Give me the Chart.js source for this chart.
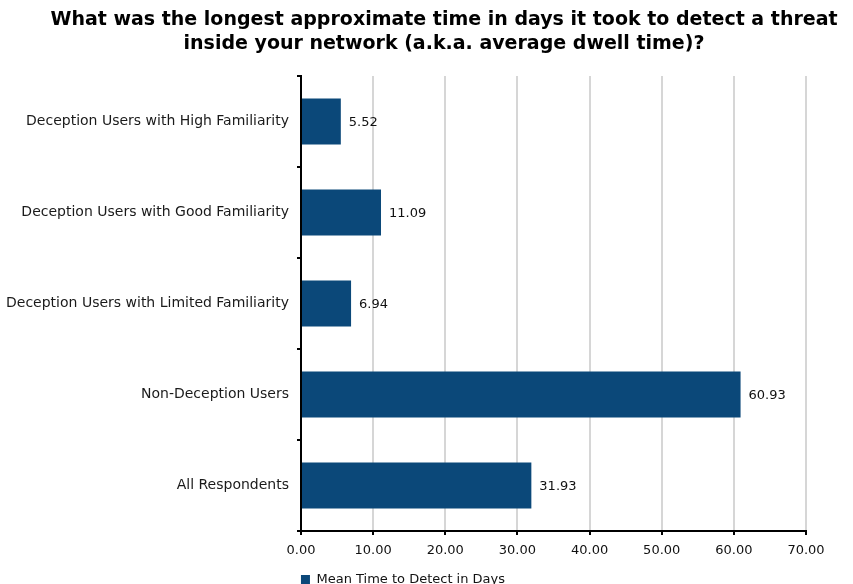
<!DOCTYPE html>
<html>
<head>
    <script src="https://cdn.jsdelivr.net/npm/chart.js"></script>
    <style>
        body { margin: 0; background: #fff; }
        #wrap { width: 853px; height: 584px; }
    </style>
</head>
<body>
    <div id="wrap"><canvas id="chart"></canvas></div>
    <script>
        const categories = [
            'Deception Users with High Familiarity',
            'Deception Users with Good Familiarity',
            'Deception Users with Limited Familiarity',
            'Non-Deception Users',
            'All Respondents'
        ];
        const meanDays = [5.52, 11.09, 6.94, 60.93, 31.93];
        const seriesName = 'Mean Time to Detect in Days';
        const titleLines = [
            'What was the longest approximate time in days it took to detect a threat',
            'inside your network (a.k.a. average dwell time)?'
        ];

        const barColor = '#0b4879';
        const font = 'DejaVu Sans';

        // title sits a bit right of the canvas centre in the original, so draw it by hand
        const titleText = {
            id: 'titleText',
            afterDraw(chart) {
                const ctx = chart.ctx;
                ctx.save();
                ctx.font = 'bold 19px ' + font;
                ctx.fillStyle = '#000';
                ctx.textAlign = 'center';
                ctx.textBaseline = 'middle';
                titleLines.forEach((line, i) => ctx.fillText(line, 444, 20 + i * 24));
                ctx.restore();
            }
        };

        // writes the value just past the end of each bar
        const valueLabels = {
            id: 'valueLabels',
            afterDatasetsDraw(chart) {
                const ctx = chart.ctx;
                const meta = chart.getDatasetMeta(0);
                ctx.save();
                ctx.font = '13px ' + font;
                ctx.fillStyle = '#111';
                ctx.textAlign = 'left';
                ctx.textBaseline = 'middle';
                meta.data.forEach((bar, i) => {
                    ctx.fillText(meanDays[i].toFixed(2), bar.x + 8, bar.y + 1);
                });
                ctx.restore();
            }
        };

        const ctx = document.getElementById('chart').getContext('2d');
        new Chart(ctx, {
            type: 'bar',
            data: {
                labels: categories,
                datasets: [{
                    label: seriesName,
                    data: meanDays,
                    backgroundColor: barColor,
                    borderWidth: 0,
                    categoryPercentage: 1,
                    barPercentage: 0.505
                }]
            },
            options: {
                indexAxis: 'y',
                responsive: true,
                maintainAspectRatio: false,
                animation: false,
                layout: { padding: { left: 0, right: 47, top: 76, bottom: -12 } },
                scales: {
                    x: {
                        min: 0,
                        max: 70,
                        ticks: {
                            stepSize: 10,
                            color: '#111',
                            font: { family: font, size: 13 },
                            padding: 8,
                            callback: v => v.toFixed(2)
                        },
                        grid: {
                            color: '#d6d6d6',
                            lineWidth: 2,
                            tickColor: '#000',
                            tickLength: 4,
                            drawTicks: true
                        },
                        border: { color: '#000', width: 2 },
                        afterFit: s => { s.height = 40; }
                    },
                    y: {
                        ticks: {
                            color: '#1a1a1a',
                            font: { family: font, size: 14 },
                            padding: 8
                        },
                        grid: {
                            offset: true,
                            drawOnChartArea: false,
                            tickColor: '#000',
                            tickLength: 4,
                            lineWidth: 2
                        },
                        border: { color: '#000', width: 2 },
                        afterFit: s => { s.width = 301; }
                    }
                },
                plugins: {
                    title: { display: false },
                    legend: {
                        position: 'bottom',
                        labels: {
                            boxWidth: 9,
                            boxHeight: 9,
                            color: '#111',
                            font: { family: font, size: 13 },
                            padding: 2
                        }
                    },
                    tooltip: { enabled: false }
                }
            },
            plugins: [valueLabels, titleText]
        });
    </script>
</body>
</html>
